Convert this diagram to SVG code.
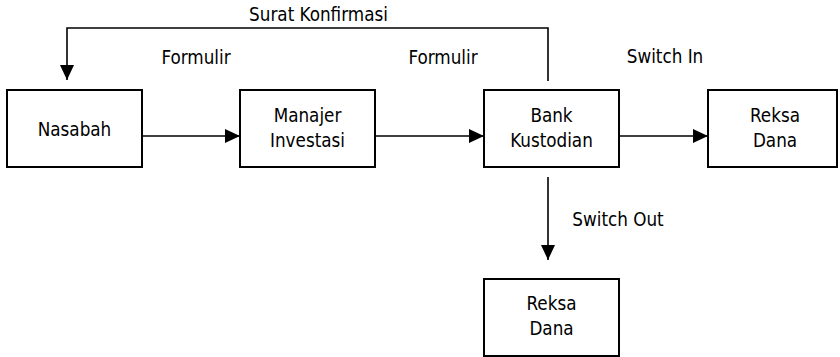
<svg xmlns="http://www.w3.org/2000/svg" width="840" height="357" viewBox="0 0 840 357">
<style>
text{font-family:"DejaVu Sans Condensed","DejaVu Sans",sans-serif;font-size:18.7px;fill:#000;text-anchor:middle}
.box{fill:#fff;stroke:#000;stroke-width:2}
.ln{fill:none;stroke:#000;stroke-width:1.6}
</style>
<defs>
<marker id="ah" viewBox="0 0 15 14" refX="15" refY="7" markerWidth="15" markerHeight="14" markerUnits="userSpaceOnUse" orient="auto">
<path d="M0,0 L15,7 L0,14 Z" fill="#000"/>
</marker>
</defs>
<rect width="840" height="357" fill="#fff"/>
<g id="connectors">
<path class="ln" d="M548,81 V28 H67 V80" marker-end="url(#ah)"/>
<path class="ln" d="M142,136 H240" marker-end="url(#ah)"/>
<path class="ln" d="M375,136 H484" marker-end="url(#ah)"/>
<path class="ln" d="M619,136 H708" marker-end="url(#ah)"/>
<path class="ln" d="M548,177 V260" marker-end="url(#ah)"/>
<text x="318.5" y="21">Surat Konfirmasi</text>
<text x="196" y="64">Formulir</text>
<text x="443" y="64">Formulir</text>
<text x="665" y="63">Switch In</text>
<text x="618" y="226">Switch Out</text>
</g>
<g id="nasabah">
<rect class="box" x="7" y="90" width="135" height="77"/>
<text x="74.5" y="135.5">Nasabah</text>
</g>
<g id="manajer">
<rect class="box" x="240" y="90" width="135" height="77"/>
<text x="307.5" y="122">Manajer</text>
<text x="307.5" y="147">Investasi</text>
</g>
<g id="bank">
<rect class="box" x="484" y="90" width="135" height="77"/>
<text x="551.5" y="122">Bank</text>
<text x="551.5" y="147">Kustodian</text>
</g>
<g id="reksa-in">
<rect class="box" x="708" y="90" width="129" height="77"/>
<text x="775" y="122">Reksa</text>
<text x="775" y="147">Dana</text>
</g>
<g id="reksa-out">
<rect class="box" x="484" y="279" width="135" height="77"/>
<text x="551.5" y="310">Reksa</text>
<text x="551.5" y="335">Dana</text>
</g>
</svg>
